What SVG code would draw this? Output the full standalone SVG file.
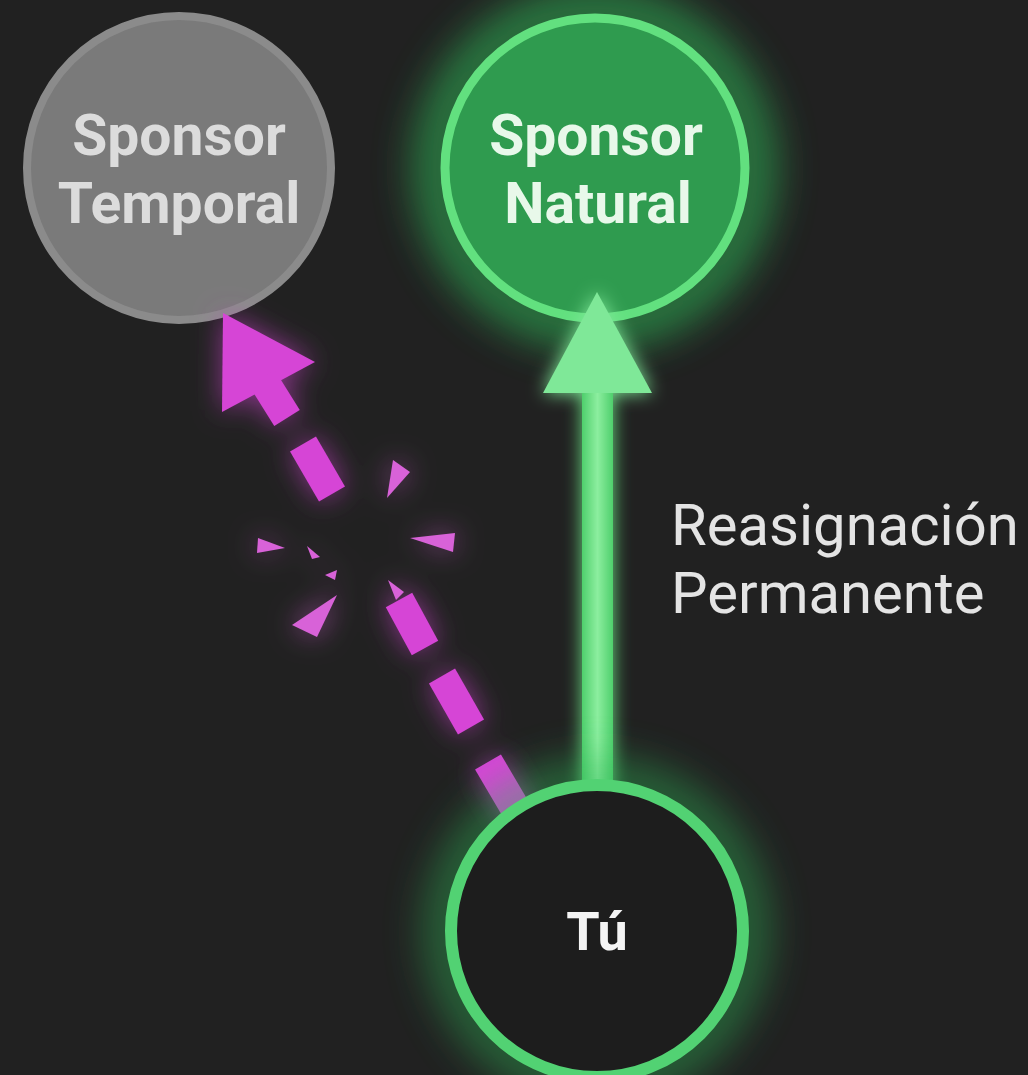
<svg xmlns="http://www.w3.org/2000/svg" width="1028" height="1075" viewBox="0 0 1028 1075">
  <defs>
    <filter id="glowG" x="-50%" y="-50%" width="200%" height="200%">
      <feGaussianBlur in="SourceGraphic" stdDeviation="22"/>
    </filter>
    <filter id="glowS" x="-50%" y="-50%" width="200%" height="200%">
      <feGaussianBlur in="SourceGraphic" stdDeviation="9" result="b"/>
      <feMerge><feMergeNode in="b"/><feMergeNode in="SourceGraphic"/></feMerge>
    </filter>
    <filter id="glowM" x="-50%" y="-50%" width="200%" height="200%">
      <feGaussianBlur in="SourceGraphic" stdDeviation="14" result="b"/>
      <feColorMatrix in="b" type="matrix" values="1 0 0 0 0  0 1 0 0 0  0 0 1 0 0  0 0 0 0.6 0" result="c"/>
      <feMerge><feMergeNode in="c"/><feMergeNode in="SourceGraphic"/></feMerge>
    </filter>
    <linearGradient id="shaft" x1="0" y1="0" x2="1" y2="0">
      <stop offset="0" stop-color="#4fcf6c"/>
      <stop offset="0.5" stop-color="#8cee9f"/>
      <stop offset="1" stop-color="#4fcf6c"/>
    </linearGradient>
  </defs>
  <style>
    .bold { font-family: Roboto, "Liberation Sans", sans-serif; font-weight: 700; font-size: 57px; text-anchor: middle; }
    .lbl { font-family: Roboto, "Liberation Sans", sans-serif; font-weight: 400; font-size: 58px; fill: #e4e4e4; }
    .mdash { stroke: #d645d6; stroke-width: 30; stroke-linecap: butt; fill: none; }
    .shard { fill: #d862d8; }
    .halo { fill: none; stroke: #2fb556; }
  </style>
  <rect width="1028" height="1075" fill="#212121"/>

  <g id="node-temporal">
    <circle cx="179" cy="168" r="152" fill="#7a7a7a" stroke="#8b8b8b" stroke-width="8"/>
    <text class="bold" x="179" y="155" fill="#dcdcdc">Sponsor</text>
    <text class="bold" x="179" y="223" fill="#dcdcdc">Temporal</text>
  </g>

  <g id="node-natural">
    <circle class="halo" cx="595" cy="168" r="158" stroke-width="40" filter="url(#glowG)" opacity="0.75"/>
    <circle cx="595" cy="168" r="150" fill="#2f9b4f" stroke="#62e07f" stroke-width="9"/>
    <text class="bold" x="596" y="155" fill="#e8f8ea">Sponsor</text>
    <text class="bold" x="598" y="223" fill="#e8f8ea">Natural</text>
  </g>

  <g id="connectors">
    <g id="edge-permanent" filter="url(#glowS)">
      <rect x="582" y="385" width="31" height="410" fill="url(#shaft)"/>
      <polygon points="597,292 543,393 652,393" fill="#7fe898"/>
    </g>
    <g id="edge-broken" filter="url(#glowM)">
      <polygon points="223,313 315,362 222,412" fill="#d645d6"/>
      <line class="mdash" x1="262" y1="378" x2="287" y2="418"/>
      <line class="mdash" x1="303" y1="444" x2="332" y2="494"/>
      <line class="mdash" x1="399" y1="600" x2="425" y2="648"/>
      <line class="mdash" x1="442" y1="676" x2="471" y2="727"/>
      <line class="mdash" x1="488" y1="762" x2="525" y2="825"/>
      <polygon class="shard" points="393,460 410,472 387,498"/>
      <polygon class="shard" points="410,538 455,533 453,552"/>
      <polygon class="shard" points="258,538 285,548 257,553"/>
      <polygon class="shard" points="307,546 320,557 312,559"/>
      <polygon class="shard" points="325,575 337,570 335,580"/>
      <polygon class="shard" points="292,625 337,595 317,637"/>
      <polygon class="shard" points="388,580 404,592 396,600"/>
    </g>
    <text class="lbl" x="671" y="545">Reasignación</text>
    <text class="lbl" x="671" y="613">Permanente</text>
  </g>

  <g id="node-tu">
    <circle class="halo" cx="597" cy="931" r="150" stroke-width="36" filter="url(#glowG)" opacity="0.6"/>
    <circle cx="597" cy="931" r="146" fill="#1d1d1d" stroke="#52d273" stroke-width="12"/>
    <text class="bold" x="597" y="950" fill="#f4f4f4" style="font-size:54px">Tú</text>
  </g>
</svg>
